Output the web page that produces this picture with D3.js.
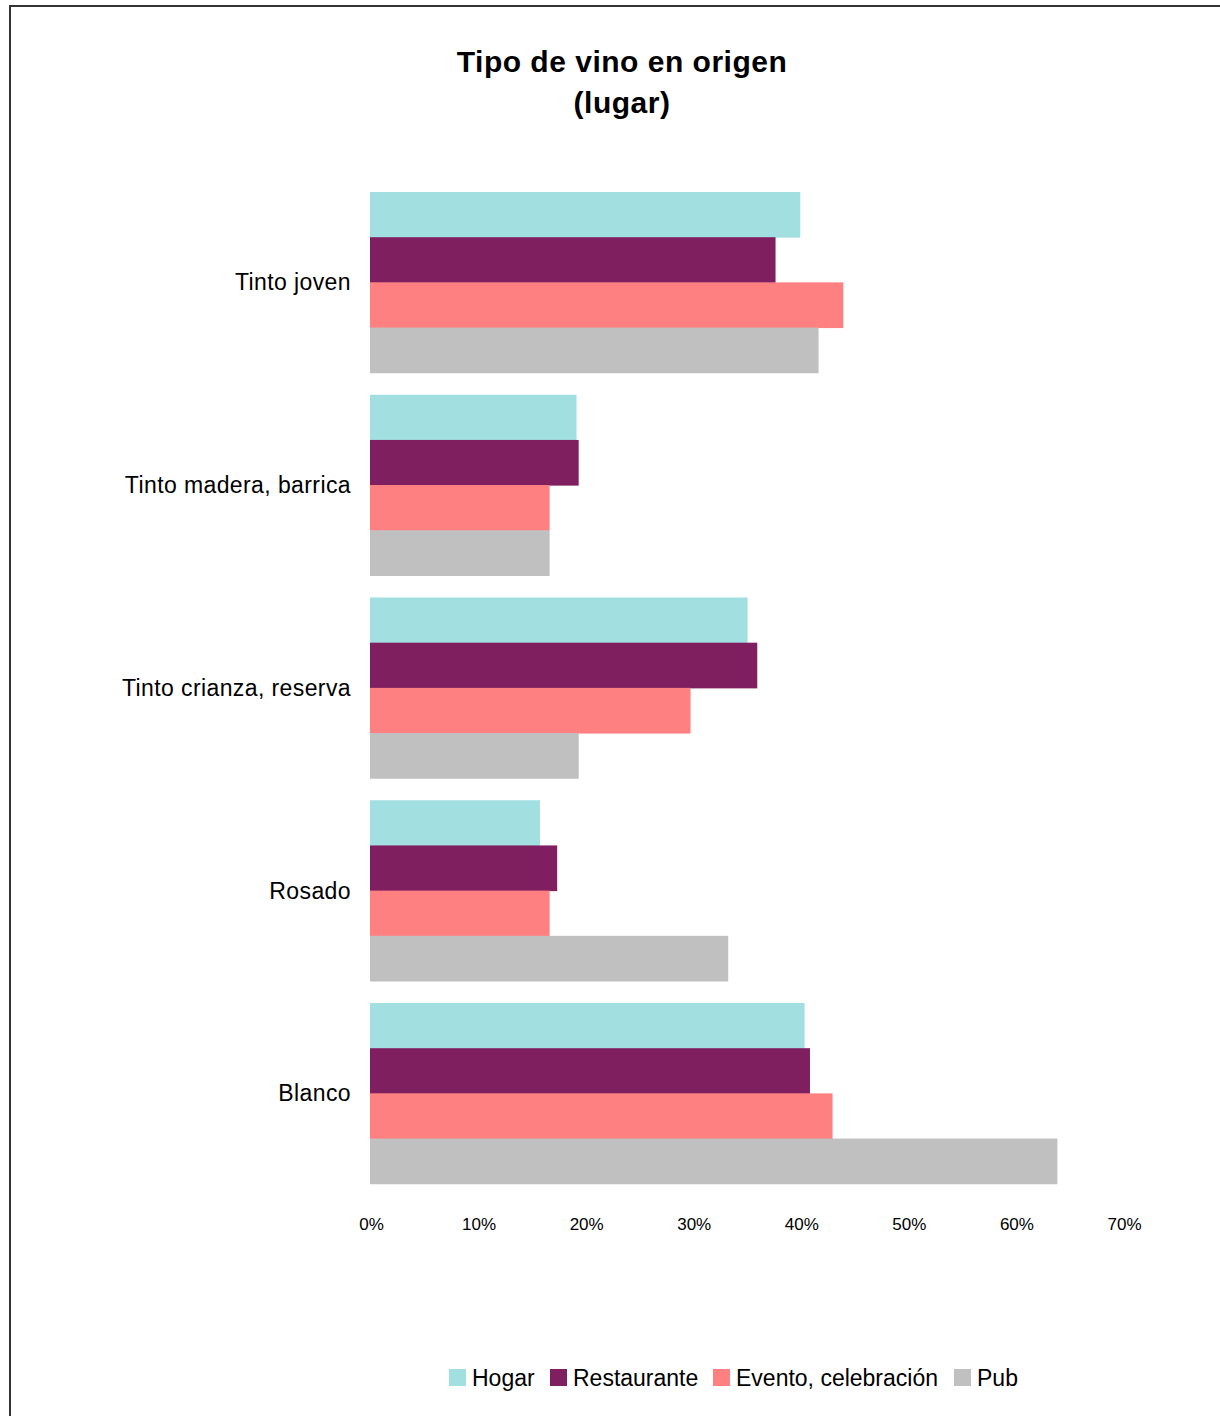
<!DOCTYPE html>
<html>
<head>
<meta charset="utf-8">
<script src="https://cdn.jsdelivr.net/npm/d3@7"></script>
<style>
  html, body { margin: 0; padding: 0; background: #fff; }
  svg { display: block; font-family: "Liberation Sans", Arial, sans-serif; }
</style>
</head>
<body>
<svg id="chart" width="1220" height="1416"></svg>
<script>
const categories = ["Tinto joven", "Tinto madera, barrica", "Tinto crianza, reserva", "Rosado", "Blanco"];
const seriesNames = ["Hogar", "Restaurante", "Evento, celebración", "Pub"];
const seriesColors = ["#A2DFE0", "#7F1F5F", "#FF8080", "#C0C0C0"];
const hogar       = [40.0, 19.2, 35.1, 15.8, 40.4];
const restaurante = [37.7, 19.4, 36.0, 17.4, 40.9];
const evento      = [44.0, 16.7, 29.8, 16.7, 43.0];
const pub         = [41.7, 16.7, 19.4, 33.3, 63.9];
const tickValues  = [0, 10, 20, 30, 40, 50, 60, 70];
const titleLines  = ["Tipo de vino en origen", "(lugar)"];

const series = [hogar, restaurante, evento, pub];
const svg = d3.select("#chart");

// outer border (frame extends beyond right/bottom edge)
svg.append("rect").attr("x", 10).attr("y", 6).attr("width", 1240).attr("height", 1440)
  .attr("fill", "none").attr("stroke", "#333").attr("stroke-width", 2);

// title
svg.selectAll("text.title").data(titleLines).join("text").attr("class", "title")
  .attr("x", 622).attr("y", (d, i) => 72 + i * 41).attr("text-anchor", "middle")
  .attr("font-size", 30).attr("font-weight", "bold").attr("letter-spacing", 0.5)
  .attr("fill", "#000").text(d => d);

const x = d3.scaleLinear().domain([0, 70]).range([370, 1123]);
const y = d3.scaleBand().domain(categories).range([181, 1194.75]).paddingInner(0.1085).paddingOuter(0.05425);
const ySub = d3.scaleBand().domain(seriesNames).range([0, y.bandwidth()]);

const groups = svg.append("g").selectAll("g").data(categories).join("g")
  .attr("transform", d => `translate(0,${y(d)})`);

groups.selectAll("rect").data((c, i) => seriesNames.map((s, j) => ({ s, j, v: series[j][i] })))
  .join("rect")
  .attr("x", x(0))
  .attr("y", d => ySub(d.s))
  .attr("width", d => x(d.v) - x(0))
  .attr("height", ySub.bandwidth() + 0.5)
  .attr("fill", d => seriesColors[d.j]);

// category labels
const yAxis = d3.axisLeft(y).tickSize(0).tickPadding(0);
const gy = svg.append("g").attr("transform", "translate(351,0)").call(yAxis);
gy.select(".domain").remove();
gy.selectAll("text").attr("font-size", 23).attr("fill", "#000").attr("letter-spacing", 0.4)
  .attr("font-family", "'Liberation Sans', Arial, sans-serif").attr("dy", "0.35em");

// x axis labels
const xAxis = d3.axisBottom(x).tickValues(tickValues).tickSize(0).tickPadding(0).tickFormat(d => d + "%");
const gx = svg.append("g").attr("transform", "translate(1,1230)").call(xAxis);
gx.select(".domain").remove();
gx.selectAll("text").attr("font-size", 17).attr("fill", "#000")
  .attr("font-family", "'Liberation Sans', Arial, sans-serif").attr("dy", 0);

// legend
const legendX = [449, 550, 713, 954];
const lg = svg.append("g").selectAll("g").data(seriesNames).join("g")
  .attr("transform", (d, i) => `translate(${legendX[i]},1369)`);
lg.append("rect").attr("width", 17).attr("height", 17).attr("fill", (d, i) => seriesColors[i]);
lg.append("text").attr("x", 23).attr("y", 17).attr("font-size", 23).attr("fill", "#000").text(d => d);
</script>
</body>
</html>
